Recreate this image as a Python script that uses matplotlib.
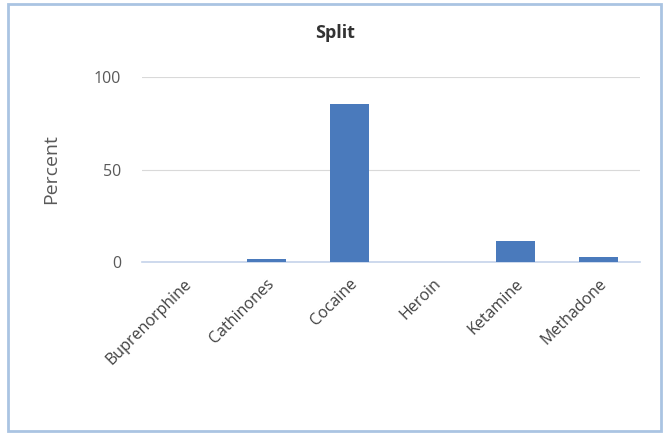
import matplotlib
matplotlib.use("Agg")
import matplotlib.pyplot as plt
from matplotlib.patches import Rectangle

categories = ["Buprenorphine", "Cathinones", "Cocaine", "Heroin", "Ketamine", "Methadone"]
percent = [0, 1.6, 85.5, 0, 11.5, 2.5]
yticks = [0, 50, 100]

plt.rcParams['font.family'] = ['Open Sans', 'DejaVu Sans']

fig = plt.figure(figsize=(6.64, 4.34), dpi=100)
ax = fig.add_axes([142/664, 1-262/434, (640-142)/664, (262-77)/434])

x = range(len(categories))
ax.bar(x, percent, width=0.47, color="#4a7abc", zorder=3)
ax.set_xlim(-0.5, len(categories)-0.5)
ax.set_ylim(0, 100)
ax.set_yticks(yticks)
ax.set_yticklabels([str(t) for t in yticks], color="#595959", fontsize=11.5)
ax.set_xticks(list(x))
ax.set_xticklabels(categories, rotation=45, ha='right', rotation_mode='anchor',
                   color="#404040", fontsize=11.5)
ax.tick_params(axis='y', length=0, pad=15)
ax.tick_params(axis='x', length=0, pad=10)
ax.grid(axis='y', color="#d9d9d9", linewidth=0.8, zorder=0)
for s in ["top", "right", "left"]:
    ax.spines[s].set_visible(False)
ax.spines["bottom"].set_color("#c5d3ea")
ax.spines["bottom"].set_linewidth(1.2)
ax.set_ylabel("Percent", fontsize=14, color="#595959", labelpad=24)
fig.text(335/664, 1-33/434, "Split", ha='center', va='center', fontsize=13,
         fontweight='bold', color="#333333")

fig.add_artist(Rectangle((8/664, 3/434), (661-8)/664, (431-4)/434, transform=fig.transFigure,
                         fill=False, edgecolor="#aac4e2", linewidth=2))

fig.savefig("out.png", dpi=100)
